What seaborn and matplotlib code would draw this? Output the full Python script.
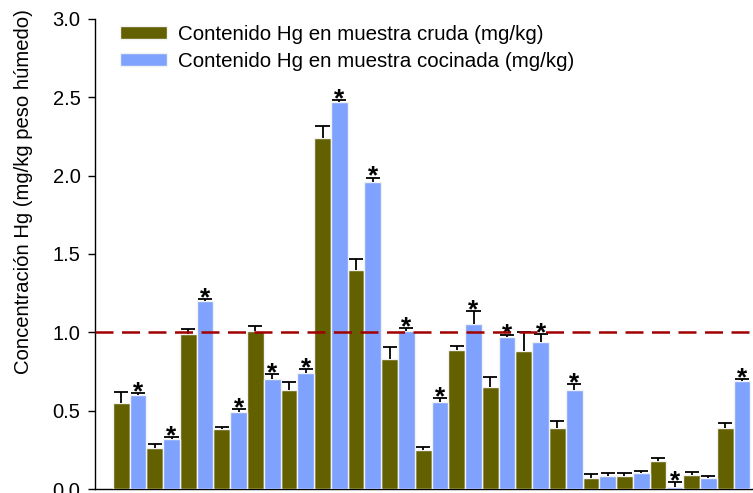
import numpy as np
import pandas as pd
import matplotlib
matplotlib.use("Agg")
import matplotlib.pyplot as plt
import seaborn as sns

# ---- data ----
muestras = [f"M{i}" for i in range(1, 20)]
crudo = [0.55, 0.26, 0.99, 0.38, 1.01, 0.63, 2.24, 1.40, 0.83, 0.25,
         0.89, 0.65, 0.88, 0.39, 0.07, 0.08, 0.18, 0.09, 0.39]
crudo_err = [0.066, 0.03, 0.03, 0.015, 0.03, 0.05, 0.076, 0.07, 0.078, 0.02,
             0.021, 0.066, 0.123, 0.047, 0.024, 0.023, 0.015, 0.016, 0.032]
cocinado = [0.60, 0.32, 1.20, 0.49, 0.70, 0.74, 2.47, 1.96, 1.01, 0.555,
            1.05, 0.97, 0.94, 0.63, 0.085, 0.104, 0.015, 0.072, 0.687]
cocinado_err = [0.01, 0.013, 0.01, 0.02, 0.036, 0.024, 0.013, 0.028, 0.018, 0.026,
                0.085, 0.01, 0.05, 0.04, 0.017, 0.01, 0.03, 0.01, 0.017]
significativo = [True] * 14 + [False, False, True, False, True]
series = ["Contenido Hg en muestra cruda (mg/kg)",
          "Contenido Hg en muestra cocinada (mg/kg)"]
limite = 1.0

plt.rcParams['font.family'] = ['Liberation Sans', 'DejaVu Sans']

df = pd.DataFrame({
    "muestra": muestras * 2,
    "valor": crudo + cocinado,
    "serie": [series[0]] * len(muestras) + [series[1]] * len(muestras),
})

fig = plt.figure(figsize=(7.53, 4.93), dpi=100)
ax = fig.add_axes([0.1262, 0.0081, 0.8738, 0.9534])

palette = {series[0]: "#636000", series[1]: "#80A2FF"}
sns.barplot(data=df, x="muestra", y="valor", hue="serie", palette=palette,
            width=1.0, edgecolor="#f2f2f2", linewidth=1.0, saturation=1,
            errorbar=None, ax=ax, zorder=3)

errs = [crudo_err, cocinado_err]
vals = [crudo, cocinado]
for k, cont in enumerate(ax.containers):
    xs = np.array([p.get_x() + p.get_width() / 2 for p in cont.patches])
    v = np.array(vals[k])
    e = np.array(errs[k])
    ax.vlines(xs, v, v + e, color="black", lw=1.3, zorder=4)
    ax.hlines(v + e, xs - 0.21, xs + 0.21, color="black", lw=1.3, zorder=4)
    if k == 1:
        for xi, top, sig in zip(xs, v + e, significativo):
            if sig:
                ax.annotate("*", (xi, top), xytext=(0, -4.5), textcoords="offset points",
                            ha="center", va="baseline", fontsize=19, fontweight="bold",
                            color="black", zorder=5)

ax.axhline(limite, color="#A00000", lw=1.8, ls=(0, (7.2, 3.4)), zorder=6)

ax.set_ylim(0, 3.0)
ax.set_xlim(-1.03, 18.58)
ax.set_yticks([0, 0.5, 1.0, 1.5, 2.0, 2.5, 3.0])
ax.set_yticklabels(["0.0", "0.5", "1.0", "1.5", "2.0", "2.5", "3.0"], fontsize=14.5)
ax.tick_params(axis="y", length=5, width=1, pad=5.5, direction="out")
ax.set_xticks([])
ax.set_xlabel("")
ax.set_ylabel("Concentración Hg (mg/kg peso húmedo)", fontsize=14.6)
ax.yaxis.set_label_coords(-0.094, 0.632)
for s in ["top", "right"]:
    ax.spines[s].set_visible(False)
ax.spines["left"].set_linewidth(1)
ax.spines["bottom"].set_linewidth(1)

h, l = ax.get_legend_handles_labels()
leg = ax.legend(h, l, loc="upper left", bbox_to_anchor=(0.026, 1.005), frameon=False,
                fontsize=14.8, handlelength=2.25, handleheight=0.6, handletextpad=0.55,
                labelspacing=0.4, borderaxespad=0)

fig.savefig("out.png", dpi=100)
